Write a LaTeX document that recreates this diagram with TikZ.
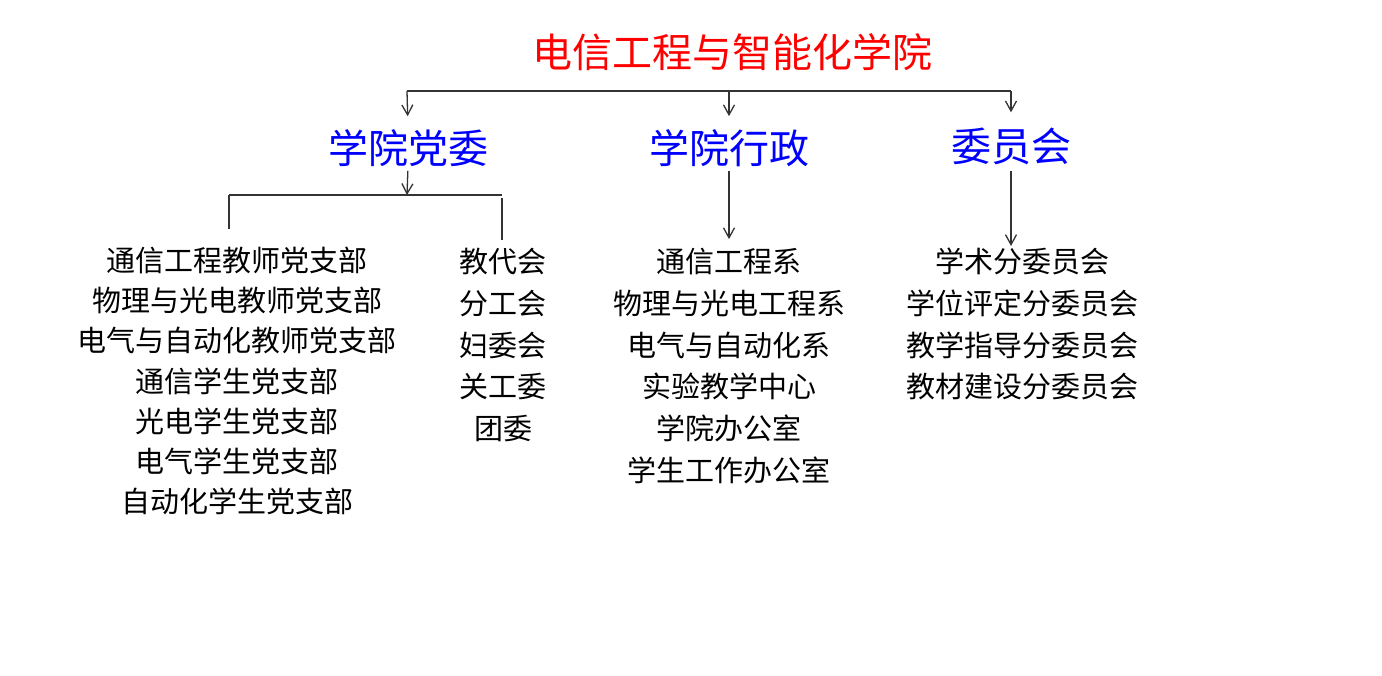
\documentclass[tikz,border=0pt]{standalone}
\usepackage{fontspec}
\setmainfont{Noto Sans CJK SC}
\usetikzlibrary{positioning,arrows.meta}

\begin{document}
\begin{tikzpicture}[x=1pt,y=-1pt,node distance=40.3pt,on grid,
		title/.style={text=red,inner sep=0pt,font=\fontsize{40}{40}\selectfont},
		unit/.style={text=blue,inner sep=0pt,font=\fontsize{40}{40}\selectfont},
		item/.style={inner sep=0pt,font=\fontsize{29}{29}\selectfont},
		link/.style={black!80,line width=1.3pt},
		arr/.style={link,-{Straight Barb[length=10pt,width=11pt]}}]
				\useasboundingbox (0,0) rectangle (1382,675);

				\node[title]    (school)  at (732,52)             {电信工程与智能化学院};
				\node[unit ]    (party)   at (408,148)            {学院党委};
				\node[unit ]    (admin)   at (729,148)            {学院行政};
				\node[unit ]    (comm)    at (1011,146)           {委员会};

				% party branches
				\node[item]     (p1)      at (237,260)            {通信工程教师党支部};
				\node[item]     (p2)      [below=of p1]           {物理与光电教师党支部};
				\node[item]     (p3)      [below=of p2]           {电气与自动化教师党支部};
				\node[item]     (p4)      [below=of p3]           {通信学生党支部};
				\node[item]     (p5)      [below=of p4]           {光电学生党支部};
				\node[item]     (p6)      [below=of p5]           {电气学生党支部};
				\node[item]     (p7)      [below=of p6]           {自动化学生党支部};

				\node[item]     (g1)      at (503,261.7)          {教代会};
				\node[item]     (g2)      [below=41.7pt of g1]    {分工会};
				\node[item]     (g3)      [below=41.7pt of g2]    {妇委会};
				\node[item]     (g4)      [below=41.7pt of g3]    {关工委};
				\node[item]     (g5)      [below=41.7pt of g4]    {团委};

				% departments
				\node[item]     (d1)      at (729,261.7)          {通信工程系};
				\node[item]     (d2)      [below=41.7pt of d1]    {物理与光电工程系};
				\node[item]     (d3)      [below=41.7pt of d2]    {电气与自动化系};
				\node[item]     (d4)      [below=41.7pt of d3]    {实验教学中心};
				\node[item]     (d5)      [below=41.7pt of d4]    {学院办公室};
				\node[item]     (d6)      [below=41.7pt of d5]    {学生工作办公室};

				% committees
				\node[item]     (c1)      at (1022,261.7)         {学术分委员会};
				\node[item]     (c2)      [below=41.7pt of c1]    {学位评定分委员会};
				\node[item]     (c3)      [below=41.7pt of c2]    {教学指导分委员会};
				\node[item]     (c4)      [below=41.7pt of c3]    {教材建设分委员会};

				\coordinate (busL)   at (407,91);
				\coordinate (busM)   at (729,91);
				\coordinate (busR)   at (1011,91);
				\coordinate (forkL)  at (229,195);
				\coordinate (forkM)  at (407,195);
				\coordinate (forkR)  at (502,195);
				\coordinate (dropL)  at (229,229);
				\coordinate (dropR)  at (502,240);

				\draw[link] (busL) -- (busR);
				\draw[arr,shorten >=13pt] (busL) -- (party.north);
				\draw[arr,shorten >=13pt] (busM) -- (admin.north);
				\draw[arr,shorten >=15pt] (busR) -- (comm.north);

				\draw[arr,shorten <=4pt] (party.south) -- (forkM);
				\draw[link] (forkL) -- (forkR);
				\draw[link] (forkL) -- (dropL);
				\draw[link,shorten <=3pt] (forkR) -- (dropR);

				\draw[arr,shorten <=4pt,shorten >=9pt] (admin.south) -- (d1.north);
				\draw[arr,shorten <=6pt,shorten >=2pt] (comm.south) -- (comm.south |- c1.north);

\end{tikzpicture}
\end{document}
